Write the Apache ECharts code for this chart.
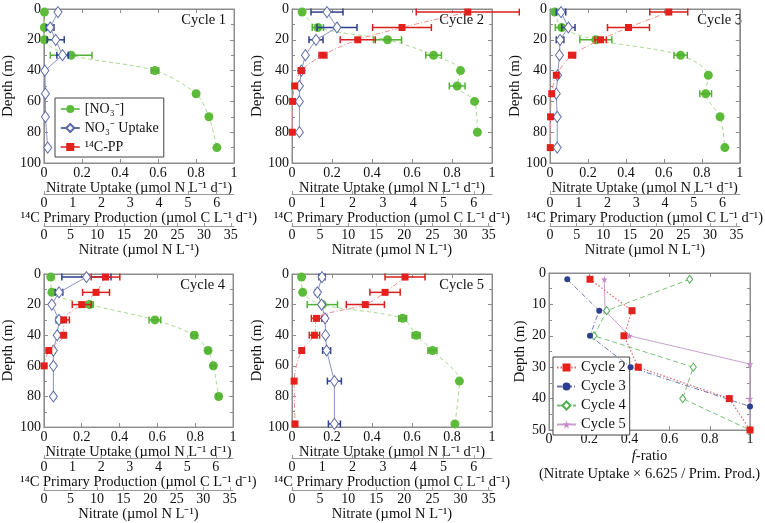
<!DOCTYPE html>
<html><head><meta charset="utf-8">
<script src="https://cdn.jsdelivr.net/npm/echarts@6/dist/echarts.min.js"></script>
<style>html,body{margin:0;padding:0;background:#fff}#c{width:765px;height:523px}</style>
</head><body><div id="c"></div><script>
// ---------- tick labels ----------
const uptakeTicks = [0, 0.2, 0.4, 0.6, 0.8, 1];
const ppTicks = [0, 1, 2, 3, 4, 5, 6];
const nitrateTicks = [0, 5, 10, 15, 20, 25, 30, 35];
const depthTicks = [0, 20, 40, 60, 80, 100];
const fDepthTicks = [0, 10, 20, 30, 40, 50];
const cycleNames = ['Cycle 1', 'Cycle 2', 'Cycle 3', 'Cycle 4', 'Cycle 5'];

// ---------- Cycle 1 ----------
const c1Depth = [2, 12, 20, 30, 40, 55, 70, 90];
const c1Nitrate = [0.1, 0.1, 0.1, 5.1, 20.8, 28.5, 30.9, 32.4];
const c1NitrateErr = [0, 0, 0, 3.9, 0.7, 0, 0, 0];
const c1Uptake = [0.074, 0.033, 0.062, 0.098, 0.005, 0.008, 0.008, 0.02];
const c1UptakeErr = [0, 0.02, 0.045, 0.03, 0, 0, 0, 0];
const c1PP = [];
const c1PPErr = [];
// ---------- Cycle 2 ----------
const c2Depth = [2, 12, 20, 30, 40, 50, 60, 80];
const c2Nitrate = [1.8, 4.6, 17.0, 25.2, 30.0, 29.4, 32.5, 33.0];
const c2NitrateErr = [0, 1.0, 2.5, 1.4, 0, 1.4, 0, 0];
const c2Uptake = [0.175, 0.225, 0.12, 0.067, 0.047, 0.037, 0.037, 0.037];
const c2UptakeErr = [0.08, 0.1, 0.035, 0, 0, 0, 0, 0];
const c2PP = [5.8, 3.63, 2.17, 1.02, 0.31, 0.09, 0.02, 0.01];
const c2PPErr = [1.7, 0.97, 0.58, 0.13, 0.1, 0, 0, 0];
// ---------- Cycle 3 ----------
const c3Depth = [2, 12, 20, 30, 43, 55, 70, 90];
const c3Nitrate = [0.9, 2.2, 8.6, 24.5, 29.7, 29.2, 31.9, 32.8];
const c3NitrateErr = [0, 1.2, 3.0, 1.25, 0, 1.1, 0, 0];
const c3Uptake = [0.058, 0.097, 0.053, 0.05, 0.04, 0.033, 0.038, 0.038];
const c3UptakeErr = [0.025, 0.035, 0.02, 0, 0, 0, 0, 0];
const c3PP = [4.13, 2.73, 1.76, 0.77, 0.22, 0.06, 0.02, 0.01];
const c3PPErr = [0.66, 0.73, 0.2, 0.12, 0, 0, 0, 0];
// ---------- Cycle 4 ----------
const c4Depth = [2, 12, 20, 30, 40, 50, 60, 80];
const c4Nitrate = [1.3, 1.5, 8.6, 20.9, 28.3, 30.9, 31.9, 32.9];
const c4NitrateErr = [0, 0, 0.7, 1.1, 0.5, 0.4, 0.4, 0.4];
const c4Uptake = [0.225, 0.08, 0.042, 0.08, 0.07, 0.05, 0.05, 0.05];
const c4UptakeErr = [0.13, 0.02, 0, 0.015, 0, 0.01, 0, 0];
const c4PP = [2.15, 1.82, 1.32, 0.69, 0.69, 0.17, 0.01];
const c4PPErr = [0.5, 0.47, 0.33, 0.2, 0, 0, 0];
// ---------- Cycle 5 ----------
const c5Depth = [2, 12, 20, 29, 40, 50, 70, 98];
const c5Nitrate = [1.7, 1.9, 5.4, 19.7, 22.1, 25.0, 29.8, 29.0];
const c5NitrateErr = [0, 0, 2.7, 0.7, 0.7, 0.8, 0, 0];
const c5Uptake = [0.15, 0.127, 0.148, 0.165, 0.168, 0.173, 0.212, 0.212];
const c5UptakeErr = [0.015, 0.01, 0, 0.01, 0, 0.02, 0.035, 0.03];
const c5PP = [3.73, 3.07, 2.42, 0.81, 0.74, 0.32, 0.07, 0.1];
const c5PPErr = [0.66, 0.5, 0.63, 0.17, 0.17, 0, 0, 0];
// ---------- f-ratio ----------
const fC2Depth = [2, 12, 20, 30, 40, 50];
const fC2 = [0.204, 0.413, 0.373, 0.444, 0.897, 1.0];
const fC3Depth = [2, 12, 20, 30, 42.5];
const fC3 = [0.091, 0.25, 0.204, 0.406, 1.0];
const fC4Depth = [2, 12, 20, 30, 40, 50];
const fC4 = [0.70, 0.287, 0.224, 0.718, 0.665, 1.0];
const fC5Depth = [2, 12, 20, 29, 40, 50];
const fC5 = [0.275, 0.279, 0.40, 1.0, 1.0, 1.0];

// ---------- styling ----------
const FONT = 'Liberation Serif';
const TXT = '#111';
const FRAME = '#8c8c8c';
const lab = { fontFamily: FONT, fontSize: 14, color: TXT };
const ttl = { fontFamily: FONT, fontSize: 14.5, color: TXT };
const NITRATE_MAX = 35.6, PP_MAX = 6.6;
const fmt = v => String(+(+v).toFixed(1));

const panels = [
  { g: { left: 35, top: 9, width: 199, height: 154 }, depth: c1Depth, nit: c1Nitrate, nitE: c1NitrateErr, up: c1Uptake, upE: c1UptakeErr, pp: c1PP, ppE: c1PPErr },
  { g: { left: 292, top: 9, width: 200, height: 154 }, depth: c2Depth, nit: c2Nitrate, nitE: c2NitrateErr, up: c2Uptake, upE: c2UptakeErr, pp: c2PP, ppE: c2PPErr },
  { g: { left: 550, top: 9, width: 200, height: 154 }, depth: c3Depth, nit: c3Nitrate, nitE: c3NitrateErr, up: c3Uptake, upE: c3UptakeErr, pp: c3PP, ppE: c3PPErr },
  { g: { left: 33, top: 274, width: 200, height: 154 }, depth: c4Depth, nit: c4Nitrate, nitE: c4NitrateErr, up: c4Uptake, upE: c4UptakeErr, pp: c4PP, ppE: c4PPErr },
  { g: { left: 292, top: 274, width: 200, height: 153 }, depth: c5Depth, nit: c5Nitrate, nitE: c5NitrateErr, up: c5Uptake, upE: c5UptakeErr, pp: c5PP, ppE: c5PPErr }
];

const option = { animation: false, grid: [], xAxis: [], yAxis: [], series: [], legend: [], graphic: [] };

function errSeries(data, xi, yi, color) {
  return {
    type: 'custom', name: 'err', xAxisIndex: xi, yAxisIndex: yi, data: data, z: 3, silent: true, clip: false,
    encode: { x: 0, y: 1 },
    renderItem: function (params, api) {
      const x = api.value(0), y = api.value(1), e = api.value(2);
      if (!e) return null;
      const p1 = api.coord([x - e, y]), p2 = api.coord([x + e, y]);
      const h = 3.5, st = { stroke: color, lineWidth: 1.5 };
      return {
        type: 'group', children: [
          { type: 'line', shape: { x1: p1[0], y1: p1[1], x2: p2[0], y2: p2[1] }, style: st },
          { type: 'line', shape: { x1: p1[0], y1: p1[1] - h, x2: p1[0], y2: p1[1] + h }, style: st },
          { type: 'line', shape: { x1: p2[0], y1: p2[1] - h, x2: p2[0], y2: p2[1] + h }, style: st }
        ]
      };
    }
  };
}

function frameAxisBase(i) {
  return {
    type: 'value', gridIndex: i, splitLine: { show: false },
    axisLine: { show: true, onZero: false, lineStyle: { color: FRAME } },
    axisTick: { show: true, inside: true, length: 4, lineStyle: { color: FRAME } }
  };
}

panels.forEach((p, i) => {
  option.grid.push(Object.assign({ show: true, borderColor: FRAME, borderWidth: 1 }, p.g));
  const xu = option.xAxis.length;
  option.xAxis.push(Object.assign(frameAxisBase(i), {
    position: 'bottom', min: uptakeTicks[0], max: uptakeTicks[uptakeTicks.length - 1], interval: uptakeTicks[1] - uptakeTicks[0],
    axisLabel: Object.assign({ margin: 3, formatter: fmt }, lab),
    name: 'Nitrate Uptake (µmol N L⁻¹ d⁻¹)', nameLocation: 'middle', nameGap: 16, nameTextStyle: ttl
  }));
  const xp = option.xAxis.length;
  option.xAxis.push({
    type: 'value', gridIndex: i, position: 'bottom', offset: 31, min: 0, max: PP_MAX, interval: ppTicks[1] - ppTicks[0],
    splitLine: { show: false },
    axisLine: { show: true, onZero: false, lineStyle: { color: '#9a9a9a' } },
    axisTick: { show: true, inside: true, length: 3, lineStyle: { color: '#9a9a9a' } },
    axisLabel: Object.assign({ margin: 2, showMaxLabel: false }, lab),
    name: '¹⁴C Primary Production (µmol C L⁻¹ d⁻¹)', nameLocation: 'middle', nameGap: 13, nameTextStyle: ttl
  });
  const xn = option.xAxis.length;
  option.xAxis.push({
    type: 'value', gridIndex: i, position: 'bottom', offset: 63, min: 0, max: NITRATE_MAX, interval: nitrateTicks[1] - nitrateTicks[0],
    splitLine: { show: false },
    axisLine: { show: true, onZero: false, lineStyle: { color: '#9a9a9a' } },
    axisTick: { show: true, inside: true, length: 3, lineStyle: { color: '#9a9a9a' } },
    axisLabel: Object.assign({ margin: 2, showMaxLabel: false }, lab),
    name: 'Nitrate (µmol N L⁻¹)', nameLocation: 'middle', nameGap: 15, nameTextStyle: ttl
  });
  option.xAxis.push(Object.assign(frameAxisBase(i), {
    position: 'top', min: 0, max: 1, interval: 0.2, axisLabel: { show: false }
  }));
  const yl = option.yAxis.length;
  option.yAxis.push(Object.assign(frameAxisBase(i), {
    position: 'left', inverse: true, min: depthTicks[0], max: depthTicks[depthTicks.length - 1], interval: depthTicks[1] - depthTicks[0],
    minorTick: { show: true, splitNumber: 2, length: 3, lineStyle: { color: FRAME } },
    axisLabel: Object.assign({ margin: 3 }, lab),
    name: 'Depth (m)', nameLocation: 'middle', nameGap: 17, nameTextStyle: Object.assign({}, ttl, { fontSize: 15 })
  }));
  option.yAxis.push(Object.assign(frameAxisBase(i), {
    position: 'right', inverse: true, min: 0, max: 100, interval: 20,
    minorTick: { show: true, splitNumber: 2, length: 3, lineStyle: { color: FRAME } },
    axisLabel: { show: false }
  }));

  // nitrate concentration (green)
  option.series.push({
    type: 'line', name: '[NO₃⁻]', xAxisIndex: xn, yAxisIndex: yl,
    data: p.depth.map((d, k) => [p.nit[k], d]), smooth: 0.3,
    symbol: 'circle', symbolSize: 9, itemStyle: { color: '#5dbb3a' },
    lineStyle: { color: '#a9d98f', width: 1, type: [4, 3] }, z: 2
  });
  option.series.push(errSeries(p.depth.map((d, k) => [p.nit[k], d, p.nitE[k]]), xn, yl, '#52b034'));
  // nitrate uptake (blue)
  option.series.push({
    type: 'line', name: 'NO₃⁻ Uptake', xAxisIndex: xu, yAxisIndex: yl,
    data: p.depth.map((d, k) => [p.up[k], d]),
    symbol: 'diamond', symbolSize: [8, 11], itemStyle: { color: '#fff', borderColor: '#5d6aa8', borderWidth: 1 },
    lineStyle: { color: '#8a92c2', width: 1 }, z: 4
  });
  option.series.push(errSeries(p.depth.map((d, k) => [p.up[k], d, p.upE[k]]), xu, yl, '#2c3f8f'));
  // 14C primary production (red)
  if (p.pp.length) {
    const dd = p.depth.slice(0, p.pp.length);
    option.series.push({
      type: 'line', name: '¹⁴C-PP', xAxisIndex: xp, yAxisIndex: yl,
      data: dd.map((d, k) => [p.pp[k], d]), smooth: 0.3,
      symbol: 'rect', symbolSize: 7, itemStyle: { color: '#e3201b' },
      lineStyle: { color: '#ef8f8f', width: 1, type: [5, 2, 1, 2] }, z: 5
    });
    option.series.push(errSeries(dd.map((d, k) => [p.pp[k], d, p.ppE[k]]), xp, yl, '#d91e1e'));
  }
  option.graphic.push({
    type: 'text', x: p.g.left + p.g.width - 8, y: p.g.top + 11,
    style: { text: cycleNames[i], font: '14.5px "Liberation Serif"', fill: TXT, textAlign: 'right', textVerticalAlign: 'middle' }
  });
});

// ---------- f-ratio panel ----------
const fg = 5;
option.grid.push({ show: true, borderColor: FRAME, borderWidth: 1, left: 549, top: 273, width: 201, height: 157 });
const fx = option.xAxis.length;
option.xAxis.push(Object.assign(frameAxisBase(fg), {
  position: 'bottom', min: 0, max: 1, interval: 0.2,
  axisLabel: Object.assign({ margin: 2, formatter: fmt }, lab),
  name: '{i|f}-ratio\n(Nitrate Uptake × 6.625 / Prim. Prod.)', nameLocation: 'middle', nameGap: 17,
  nameTextStyle: Object.assign({}, ttl, { lineHeight: 18, rich: { i: Object.assign({}, ttl, { fontStyle: 'italic', lineHeight: 18 }) } })
}));
option.xAxis.push(Object.assign(frameAxisBase(fg), { position: 'top', min: 0, max: 1, interval: 0.2, axisLabel: { show: false } }));
const fy = option.yAxis.length;
option.yAxis.push(Object.assign(frameAxisBase(fg), {
  position: 'left', inverse: true, min: fDepthTicks[0], max: fDepthTicks[fDepthTicks.length - 1], interval: fDepthTicks[1] - fDepthTicks[0],
  minorTick: { show: true, splitNumber: 2, length: 3, lineStyle: { color: FRAME } },
  axisLabel: Object.assign({ margin: 3 }, lab),
  name: 'Depth (m)', nameLocation: 'middle', nameGap: 21, nameTextStyle: Object.assign({}, ttl, { fontSize: 15 })
}));
option.yAxis.push(Object.assign(frameAxisBase(fg), {
  position: 'right', inverse: true, min: 0, max: 50, interval: 10,
  minorTick: { show: true, splitNumber: 2, length: 3, lineStyle: { color: FRAME } }, axisLabel: { show: false }
}));
const STAR = 'path://M50,0 L61,35 L98,35 L68,57 L79,91 L50,70 L21,91 L32,57 L2,35 L39,35 Z';
option.series.push(
  { type: 'line', name: 'Cycle 2', xAxisIndex: fx, yAxisIndex: fy, data: fC2Depth.map((d, k) => [fC2[k], d]), symbol: 'rect', symbolSize: 7,
    itemStyle: { color: '#e3201b' }, lineStyle: { color: '#e06666', width: 1.2, type: [1.5, 2] }, z: 5, clip: false },
  { type: 'line', name: 'Cycle 3', xAxisIndex: fx, yAxisIndex: fy, data: fC3Depth.map((d, k) => [fC3[k], d]), symbol: 'circle', symbolSize: 6,
    itemStyle: { color: '#2c3f8f' }, lineStyle: { color: '#6b78b0', width: 1, type: [5, 2, 1, 2] }, z: 4, clip: false },
  { type: 'line', name: 'Cycle 4', xAxisIndex: fx, yAxisIndex: fy, data: fC4Depth.map((d, k) => [fC4[k], d]), symbol: 'diamond', symbolSize: [6, 8],
    itemStyle: { color: '#fff', borderColor: '#4fae4f', borderWidth: 1 }, lineStyle: { color: '#79c079', width: 1, type: [5, 3] }, z: 3, clip: false },
  { type: 'line', name: 'Cycle 5', xAxisIndex: fx, yAxisIndex: fy, data: fC5Depth.map((d, k) => [fC5[k], d]), symbol: STAR, symbolSize: 7,
    itemStyle: { color: '#c98ac9' }, lineStyle: { color: '#c8a0cf', width: 1 }, z: 2, clip: false }
);

// ---------- legends ----------
option.legend.push({
  orient: 'vertical', left: 55, top: 98, backgroundColor: '#fff', borderColor: '#444', borderWidth: 1,
  padding: [4, 5, 3, 5], itemGap: 5, itemWidth: 19, itemHeight: 10,
  textStyle: Object.assign({}, lab, { fontSize: 14 }),
  data: [
    { name: '[NO₃⁻]', lineStyle: { color: '#52b034', type: 'solid', width: 1.5 } },
    { name: 'NO₃⁻ Uptake', lineStyle: { color: '#2c3f8f', type: 'solid', width: 1.5 } },
    { name: '¹⁴C-PP', lineStyle: { color: '#d91e1e', type: 'solid', width: 1.5 } }
  ]
});
option.legend.push({
  orient: 'vertical', left: 553, top: 357, backgroundColor: '#fff', borderColor: '#444', borderWidth: 1,
  padding: [3, 4, 3, 3], itemGap: 4, itemWidth: 19, itemHeight: 10,
  textStyle: Object.assign({}, lab, { fontSize: 14.5 }),
  data: ['Cycle 2', 'Cycle 3', 'Cycle 4', 'Cycle 5']
});

const chart = echarts.init(document.getElementById('c'), null, { renderer: 'canvas' });
chart.setOption(option);
</script></body></html>
